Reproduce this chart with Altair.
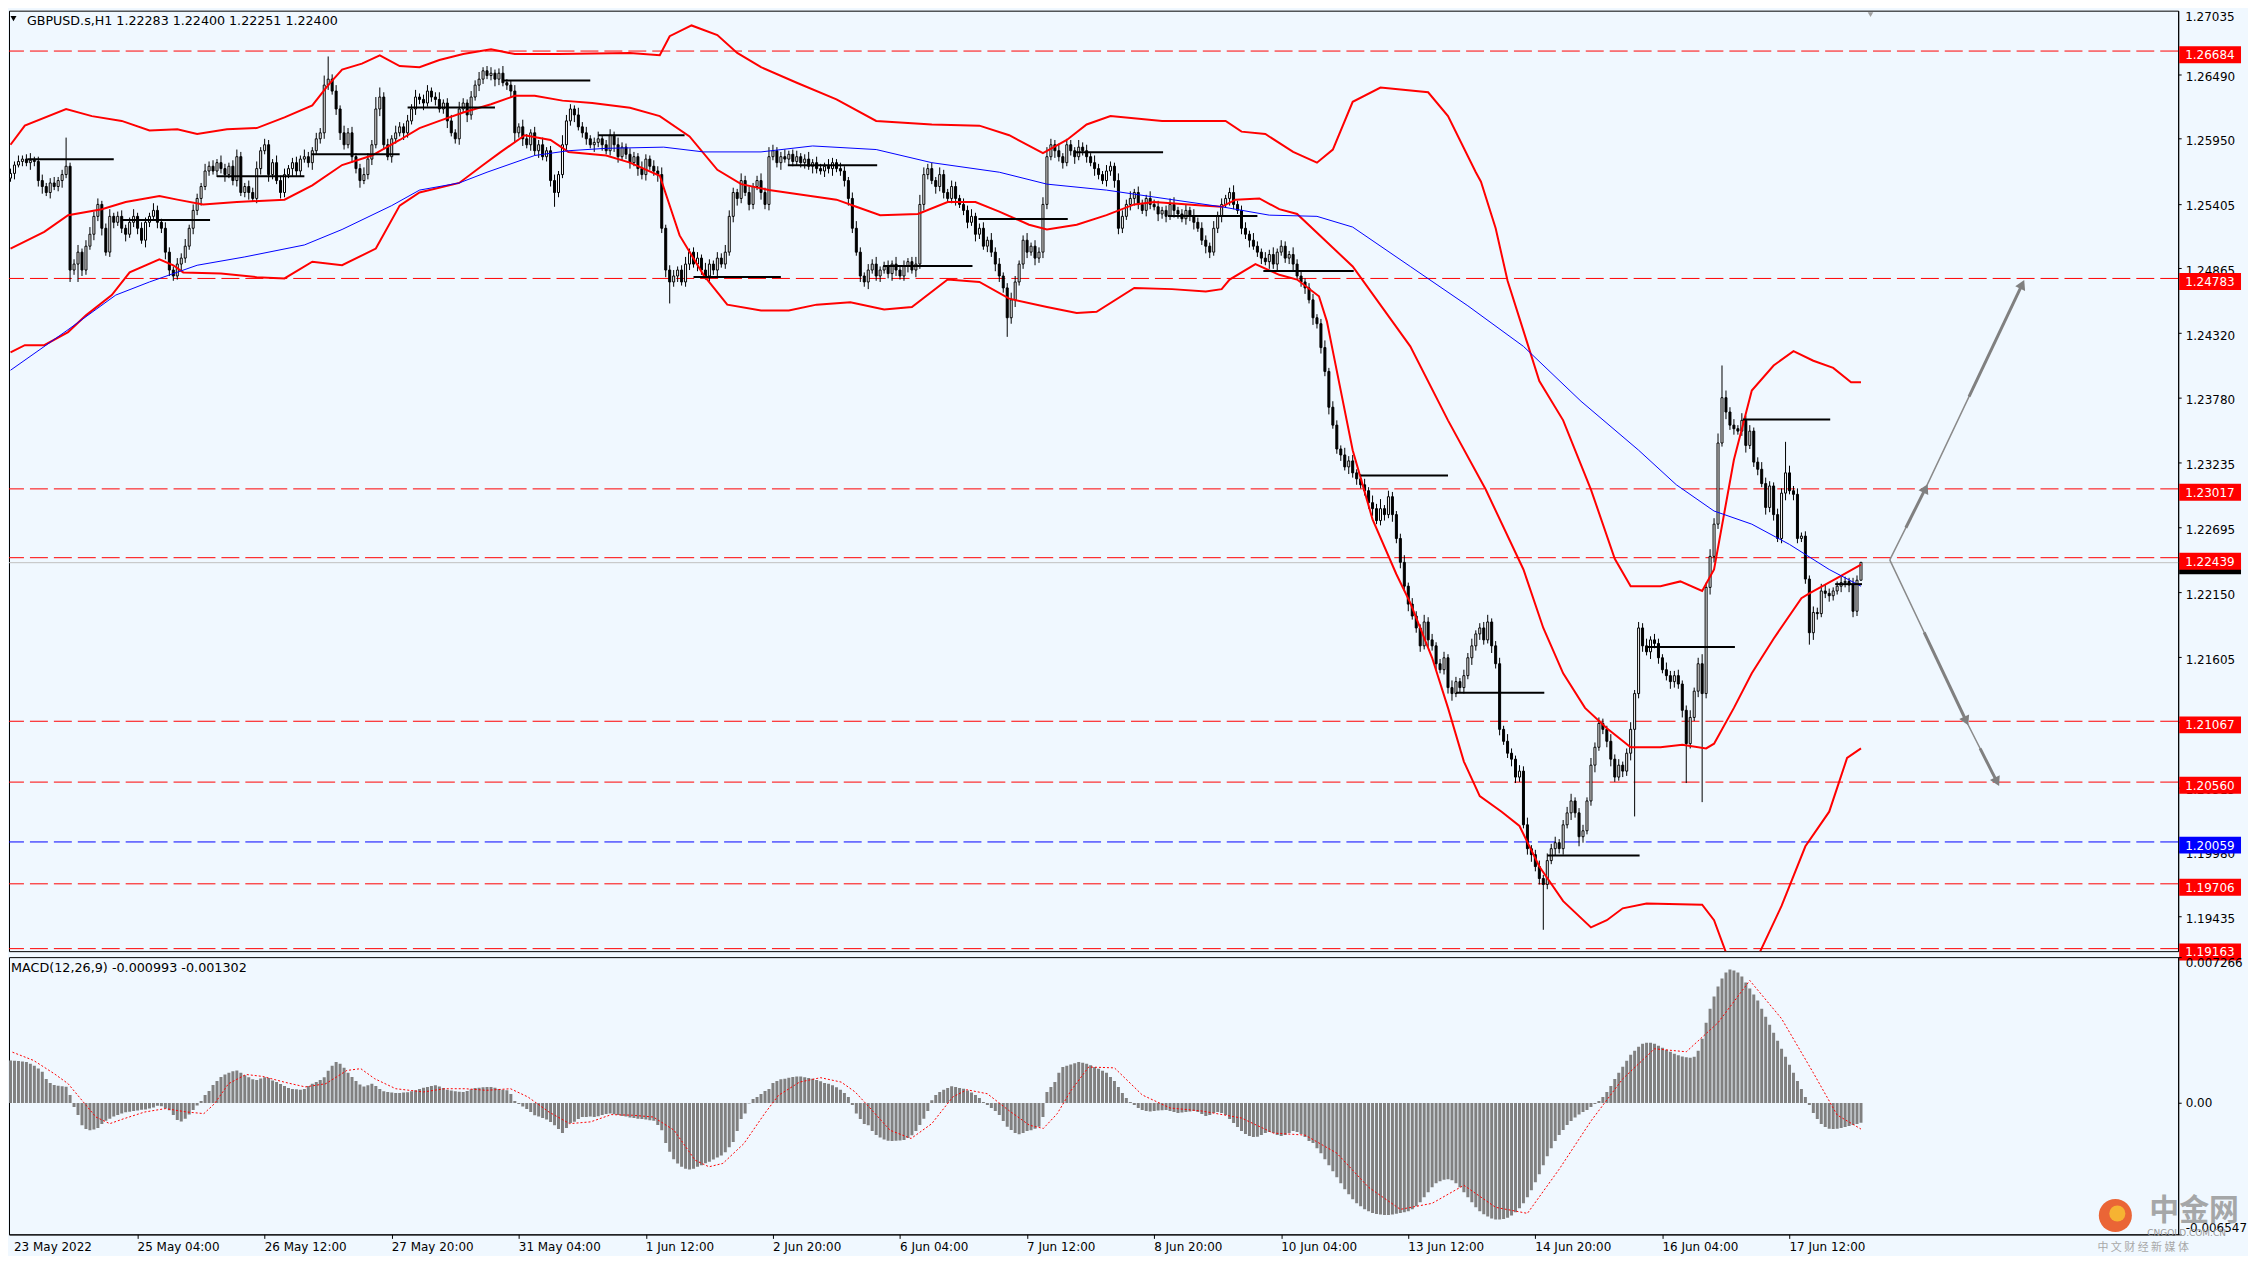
import math
import altair as alt
import pandas as pd

# ------------------------------------------------------------------ data
BASE = 1.19            # candle values are pips above this price
FIRST_OPEN = 662
CLOSE = [
    666, 673, 676, 678, 675, 677, 676, 660, 655, 650,
    658, 655, 660, 665, 672, 585, 590, 600, 585, 605,
    615, 630, 640, 620, 600, 630, 625, 630, 620, 615,
    625, 630, 620, 610, 625, 630, 635, 625, 620, 600,
    585, 580, 590, 595, 605, 620, 635, 645, 655, 668,
    672, 668, 675, 670, 665, 672, 660, 680, 650, 655,
    650, 645, 670, 685, 690, 665, 675, 660, 650, 665,
    670, 675, 668, 678, 680, 675, 685, 695, 700, 740,
    745, 735, 720, 700, 690, 700, 680, 670, 660, 665,
    678, 690, 720, 730, 690, 680, 695, 700, 705, 700,
    710, 720, 730, 728, 725, 735, 730, 728, 720, 725,
    710, 700, 695, 720, 725, 715, 730, 740, 745, 752,
    748, 750, 745, 750, 742, 740, 735, 700, 705, 695,
    690, 700, 685, 690, 680, 685, 660, 650, 665, 690,
    710, 720, 715, 705, 700, 695, 690, 692, 695, 690,
    685, 698, 690, 680, 688, 682, 675, 680, 670, 665,
    678, 672, 668, 665, 620, 585, 575, 580, 585, 575,
    590, 600, 590, 595, 585, 580, 590, 585, 595, 590,
    600, 630, 650, 645, 660, 650, 640, 655, 660, 650,
    640, 680, 685, 675, 680, 678, 682, 676, 680, 675,
    678, 672, 675, 670, 668, 672, 670, 675, 670, 668,
    660, 645, 620, 600, 580, 575, 585, 590, 580, 585,
    588, 582, 590, 585, 580, 588, 592, 585, 590, 640,
    665, 670, 660, 655, 665, 650, 645, 655, 645, 640,
    635, 625, 630, 615, 620, 605, 610, 600, 590, 580,
    570, 545, 560, 575, 590, 610, 600, 605, 595, 600,
    640, 680, 690, 685, 680, 675, 690, 685, 680, 688,
    685, 680, 675, 670, 665, 660, 668, 672, 660, 620,
    630, 640, 645, 650, 640, 635, 645, 640, 638, 632,
    635, 630, 640, 635, 632, 628, 635, 630, 625, 620,
    610, 605, 600, 620, 630, 640, 645, 650, 640, 635,
    620, 615, 610, 605, 600, 595, 592, 598, 590, 600,
    605, 595, 598, 590, 580, 575, 570, 560, 545, 540,
    520, 500, 470, 455, 435, 430, 420, 425, 415, 410,
    405, 400, 390, 385, 375, 385, 380, 395, 380, 360,
    340, 320, 305, 295, 285, 270, 290, 275, 270, 255,
    250, 260, 235, 230, 240, 235, 245, 260, 270, 280,
    285, 275, 290, 270, 255, 200, 190, 180, 175, 160,
    165, 120, 100, 95, 85, 75, 70, 90, 100, 105,
    100, 120, 130, 140, 130, 110, 115, 140, 170, 185,
    205, 200, 190, 175, 160, 170, 165, 180, 200, 230,
    285, 270, 265, 275, 272, 260, 250, 245, 240,
    245, 238, 216, 188, 210, 232, 255, 230, 319, 345,
    372, 440, 478, 466, 455, 452, 450, 459, 438, 450,
    424, 418, 406, 386, 404, 380, 360, 398, 415, 400,
    397, 360, 362, 326, 281, 298, 297, 316, 314, 312,
    316, 320, 323, 324, 321, 299, 325, 340,
]
UPPER_WICK = [
    4, 3, 5, 3, 4, 6, 3, 4, 5, 3,
    4, 5, 3, 4, 24, 3, 4, 6, 3, 5,
    6, 4, 5, 3, 4, 6, 3, 4, 5, 3,
    4, 6, 3, 5, 4, 3, 6, 4, 3, 5,
    4, 3, 5, 4, 6, 3, 5, 4, 3, 6,
    4, 5, 3, 6, 4, 3, 5, 6, 4, 3,
    5, 4, 6, 3, 5, 4, 3, 6, 4, 5,
    3, 4, 5, 3, 6, 4, 3, 5, 4, 8,
    19, 4, 5, 3, 6, 4, 5, 3, 4, 6,
    5, 4, 10, 8, 4, 5, 3, 6, 4, 3,
    5, 4, 6, 3, 4, 5, 3, 4, 6, 3,
    4, 5, 3, 6, 4, 3, 5, 4, 6, 3,
    4, 5, 3, 4, 6, 3, 4, 5, 3, 6,
    4, 3, 5, 4, 6, 3, 4, 5, 3, 8,
    5, 4, 3, 6, 4, 5, 3, 4, 6, 3,
    4, 5, 3, 6, 4, 3, 5, 4, 3, 6,
    4, 3, 5, 4, 6, 3, 4, 5, 3, 4,
    6, 3, 4, 5, 3, 6, 4, 3, 5, 4,
    6, 5, 4, 3, 6, 4, 5, 3, 4, 6,
    4, 8, 5, 3, 4, 6, 3, 4, 5, 3,
    4, 6, 3, 5, 4, 3, 6, 4, 3, 5,
    4, 3, 5, 6, 4, 3, 5, 4, 6, 3,
    4, 5, 3, 6, 4, 5, 3, 4, 6, 8,
    6, 4, 5, 3, 6, 4, 3, 5, 4, 3,
    5, 4, 6, 3, 4, 5, 3, 6, 4, 5,
    3, 4, 6, 5, 3, 4, 6, 3, 5, 4,
    6, 8, 5, 4, 6, 3, 5, 4, 3, 6,
    4, 5, 3, 6, 4, 3, 5, 4, 3, 6,
    5, 4, 6, 3, 5, 4, 3, 6, 4, 5,
    3, 4, 5, 6, 3, 4, 5, 3, 6, 4,
    5, 4, 3, 6, 4, 5, 3, 4, 6, 3,
    4, 5, 3, 6, 4, 3, 5, 4, 6, 3,
    5, 4, 3, 6, 4, 5, 3, 4, 5, 3,
    4, 6, 3, 5, 4, 3, 6, 4, 5, 3,
    4, 5, 3, 6, 4, 8, 3, 5, 4, 3,
    4, 6, 3, 5, 4, 3, 6, 4, 5, 3,
    4, 5, 3, 6, 4, 3, 5, 4, 6, 3,
    4, 5, 6, 3, 4, 5, 3, 6, 4, 3,
    5, 4, 6, 3, 4, 5, 3, 6, 4, 5,
    3, 4, 5, 6, 3, 4, 5, 3, 6, 4,
    5, 4, 3, 6, 4, 5, 3, 4, 6, 3,
    5, 4, 6, 3, 5, 4, 3, 6, 4,
    4, 5, 3, 4, 6, 3, 5, 8, 4, 6,
    5, 8, 27, 6, 4, 5, 3, 6, 4, 5,
    3, 4, 6, 5, 4, 3, 5, 4, 26, 6,
    4, 5, 3, 4, 3, 5, 4, 6, 5, 4,
    3, 4, 5, 4, 3, 6, 4, 0,
]
LOWER_WICK = [
    3, 5, 2, 4, 3, 6, 4, 5, 6, 3,
    5, 3, 4, 6, 3, 10, 4, 15, 5, 4,
    3, 5, 4, 6, 3, 4, 5, 3, 4, 6,
    3, 4, 5, 3, 6, 4, 3, 5, 4, 6,
    5, 4, 3, 6, 4, 3, 5, 4, 6, 3,
    4, 3, 5, 4, 6, 3, 4, 5, 3, 4,
    6, 3, 4, 5, 3, 6, 4, 3, 5, 4,
    3, 6, 4, 5, 3, 4, 6, 3, 4, 5,
    4, 3, 5, 6, 4, 3, 5, 4, 6, 3,
    4, 5, 3, 6, 4, 3, 5, 4, 3, 6,
    4, 3, 5, 4, 6, 3, 4, 5, 3, 4,
    6, 3, 4, 5, 3, 6, 4, 3, 5, 4,
    3, 4, 6, 5, 3, 4, 5, 8, 4, 6,
    3, 5, 4, 6, 3, 4, 5, 12, 4, 3,
    5, 4, 6, 3, 4, 5, 3, 6, 4, 5,
    3, 4, 6, 5, 3, 4, 5, 3, 6, 4,
    5, 3, 4, 6, 4, 6, 18, 4, 5, 3,
    4, 5, 3, 6, 4, 3, 5, 4, 6, 3,
    4, 3, 5, 6, 4, 3, 5, 4, 3, 6,
    4, 5, 3, 4, 6, 3, 5, 4, 3, 4,
    5, 3, 6, 4, 3, 5, 4, 6, 3, 4,
    5, 6, 4, 3, 5, 4, 6, 3, 4, 5,
    3, 4, 6, 5, 3, 4, 5, 3, 6, 4,
    5, 4, 3, 6, 4, 5, 3, 4, 6, 3,
    4, 5, 3, 6, 4, 3, 5, 4, 6, 5,
    4, 16, 5, 6, 3, 4, 5, 3, 6, 4,
    5, 4, 3, 6, 4, 5, 3, 4, 6, 3,
    4, 5, 3, 6, 4, 3, 5, 4, 6, 5,
    4, 3, 5, 6, 4, 3, 5, 4, 3, 6,
    4, 5, 3, 6, 4, 3, 5, 4, 6, 3,
    4, 6, 5, 3, 4, 5, 3, 6, 4, 3,
    5, 4, 6, 3, 4, 5, 3, 6, 4, 5,
    3, 4, 5, 6, 3, 4, 5, 3, 6, 4,
    5, 4, 6, 3, 4, 5, 3, 6, 4, 5,
    3, 4, 5, 6, 3, 4, 5, 3, 6, 4,
    5, 4, 6, 3, 4, 5, 3, 6, 4, 5,
    3, 4, 5, 6, 3, 4, 5, 3, 6, 4,
    5, 4, 3, 6, 4, 5, 3, 4, 6, 5,
    4, 3, 5, 6, 4, 5, 38, 4, 3, 6,
    4, 5, 3, 6, 4, 8, 5, 3, 4, 6,
    3, 4, 5, 6, 4, 3, 5, 4, 6, 73,
    4, 5, 3, 6, 4, 5, 3, 4, 6,
    5, 4, 6, 33, 4, 3, 5, 91, 4, 6,
    5, 4, 3, 6, 4, 5, 3, 4, 6, 3,
    4, 5, 3, 6, 4, 5, 3, 4, 6, 3,
    5, 4, 3, 4, 10, 6, 5, 3, 4, 5,
    4, 3, 5, 4, 6, 5, 4, 0,
]

# MACD(12,26,9) histogram, in units of 0.00001
MACD_HIST = [
    212, 210, 209, 207, 204, 196, 186, 172, 155, 120,
    100, 90, 86, 83, 81, 40, -20, -60, -111, -130,
    -136, -132, -125, -105, -88, -78, -68, -60, -52, -46,
    -44, -40, -37, -34, -32, -28, -22, -14, -16, -28,
    -36, -60, -85, -92, -78, -58, -35, -12, 10, 40,
    60, 90, 110, 130, 142, 150, 158, 162, 150, 138,
    128, 118, 115, 122, 128, 125, 112, 104, 95, 85,
    74, 70, 68, 66, 70, 85, 96, 105, 115, 128,
    160, 185, 204, 195, 175, 150, 130, 110, 92, 82,
    88, 96, 85, 70, 58, 55, 52, 50, 50, 52,
    54, 58, 64, 70, 76, 80, 84, 88, 82, 74,
    66, 62, 58, 56, 55, 60, 68, 74, 76, 78,
    80, 80, 76, 70, 66, 63, 45, 10, -5, -17,
    -30, -45, -61, -68, -75, -82, -95, -111, -130, -149,
    -125, -100, -94, -80, -70, -70, -68, -70, -66, -60,
    -55, -53, -56, -60, -65, -68, -72, -75, -78, -80,
    -82, -86, -88, -110, -136, -200, -243, -280, -301, -318,
    -328, -331, -328, -318, -310, -300, -293, -282, -272, -262,
    -245, -220, -194, -140, -80, -53, -3, 20, 30, 45,
    60, 70, 100, 110, 118, 121, 126, 130, 132, 132,
    128, 124, 121, 115, 108, 100, 96, 88, 78, 66,
    50, 30, -10, -53, -80, -105, -111, -140, -160, -172,
    -182, -188, -189, -188, -187, -185, -175, -161, -140, -110,
    -78, -40, 13, 40, 55, 66, 75, 83, 80, 75,
    71, 62, 52, 40, 25, 5, -10, -25, -40, -60,
    -90, -119, -135, -150, -156, -150, -140, -136, -128, -119,
    -70, 55, 80, 104, 150, 179, 185, 192, 198, 204,
    200, 195, 188, 179, 170, 160, 150, 130, 110, 80,
    50, 25, 5, -10, -25, -35, -40, -42, -40, -38,
    -36, -35, -40, -45, -50, -48, -45, -42, -40, -45,
    -55, -65, -60, -50, -45, -50, -60, -80, -100, -120,
    -140, -155, -165, -170, -168, -160, -150, -145, -150, -160,
    -165, -160, -150, -140, -145, -155, -170, -190,
    -200, -225, -250, -280, -310, -340, -370, -400, -430, -455,
    -480, -500, -515, -530, -540, -548, -553, -556, -558, -558,
    -556, -552, -548, -545, -540, -530, -515, -495, -470, -445,
    -420, -400, -390, -382, -380, -385, -400, -420, -445, -470,
    -495, -520, -540, -555, -565, -575, -580, -580, -578, -572,
    -560, -545, -525, -500, -470, -435, -395, -355, -310, -265,
    -225, -190, -160, -135, -110, -90, -72, -58, -45, -35,
    -20, -5, 10, 30, 55, 85,
    120, 150, 180, 210, 240, 260, 280, 295, 300, 300, 295, 285, 275,
    265, 255, 245, 238, 232, 228, 225, 230, 260,
    320, 400, 470, 530, 580, 620, 650, 665, 660, 650, 630,
    600, 570, 540, 510, 470, 430, 390, 350, 310, 270, 230, 190, 150, 110, 70, 30,
    -10, -50, -80, -105, -120, -128, -130, -128, -125, -120, -115, -110, -105, -99,
]
SIGNAL_BAR = [0.5, 5.8, 11, 14.5, 18, 21.5, 25, 28.6, 33.8, 39,
              44.4, 48.7, 51.4, 54.9, 59.3, 63.6, 68.9, 74.2, 79.4, 84.7,
              88.2, 91.7, 97, 104, 109.3, 114.5, 119.8, 125.9, 130.3, 135.6,
              140.8, 146.1, 151.3, 156.6, 161.9, 167.1, 172.4, 175.9, 179.4, 184.7,
              189.9, 193.4, 198.7, 204, 209.2, 212.7, 216.2, 221.5, 226.8, 232,
              237.3, 240.8, 246, 251.3, 256.6, 260.1, 263.6, 267.1, 271.5, 278,
              285, 292, 300, 310, 318, 326, 334, 342, 350, 358,
              366, 374, 382, 390, 398, 406, 414, 422, 430, 438,
              446, 454, 460, 466]
SIGNAL_VAL = [253, 212, 146, 96, 13, -70, -103, -78, -45, -28,
              -45, -53, -3, 96, 142, 132, 104, 80, 96, 162,
              171, 121, 71, 55, 71, 71, 63, 71, 30, -45,
              -103, -94, -58, -61, -70, -136, -285, -318, -301, -202,
              -53, 38, 104, 126, 104, 55, -20, -136, -177, -103,
              30, 66, 46, -36, -111, -127, -53, 63, 179, 175,
              40, -25, -40, -75, -150, -160, -250, -420, -530, -500,
              -410, -520, -550, -330, -90, 120, 270, 255, 400, 610,
              420, 150, -60, -130]

# Bollinger bands (bar index, price)
UPPER_BAR = [0, 3.6, 14, 20.5, 28, 35, 42, 47, 54.5, 62, 69, 76, 80, 83.5, 88.5, 93, 98, 103,
             108, 114, 121, 127, 138, 156, 163.5, 166, 171.5, 178, 183, 189, 198, 208, 218,
             232, 244, 251.5, 260, 266, 271, 277, 290, 306, 310, 316, 323, 329, 333, 338, 345,
             357, 362, 369, 370.3, 374, 377, 385, 391, 398, 404, 408, 415.5, 420.5, 426, 429,
             434, 438.5, 444, 449, 454, 459, 463.5, 466]
UPPER_PRICE = [1.2590, 1.2606, 1.2620, 1.2614, 1.2610, 1.2602, 1.2603, 1.2599, 1.2603, 1.2604,
               1.2613, 1.2623, 1.2640, 1.2653, 1.2658, 1.2665, 1.2656, 1.2655, 1.2661, 1.2666,
               1.2670, 1.2666, 1.2666, 1.2667, 1.2665, 1.2681, 1.2690, 1.2682, 1.2667, 1.2655,
               1.2642, 1.2628, 1.2610, 1.2607, 1.2606, 1.2598, 1.2583, 1.2594, 1.2607, 1.2614,
               1.2610, 1.2610, 1.2601, 1.2599, 1.2584, 1.2575, 1.2586, 1.2626, 1.2638, 1.2634,
               1.2614, 1.2567, 1.2559, 1.2520, 1.2476, 1.2392, 1.2359, 1.2301, 1.2243, 1.2220,
               1.2220, 1.2224, 1.2216, 1.2234, 1.2326, 1.2384, 1.2405, 1.2417, 1.2409, 1.2403,
               1.2391, 1.2391]
MID_BAR = [0, 8.5, 14.5, 23, 29, 37.5, 42, 48.5, 57, 69, 76, 83.5, 91, 98, 103, 108, 114, 121,
           127, 132, 139, 146.5, 156, 163.5, 171, 178, 184, 191, 208, 213, 219, 228.5, 236, 243,
           249, 256.5, 261, 268.5, 276, 283, 288, 300, 305, 308.5, 314.5, 319.5, 324, 338, 352.5,
           362, 371.5, 381, 386, 391, 396.5, 402, 408, 415.5, 421, 427, 429, 434, 438.5, 444,
           451, 453, 459.5, 466]
MID_PRICE = [1.2503, 1.2517, 1.2531, 1.2536, 1.2542, 1.2547, 1.2544, 1.2540, 1.2542, 1.2544,
             1.2556, 1.2573, 1.2581, 1.2594, 1.2604, 1.2610, 1.2617, 1.2624, 1.2631, 1.2631,
             1.2627, 1.2625, 1.2621, 1.2614, 1.2597, 1.2569, 1.2557, 1.2552, 1.2544, 1.2538,
             1.2531, 1.2532, 1.2542, 1.2542, 1.2534, 1.2523, 1.2519, 1.2523, 1.2531, 1.2540,
             1.2542, 1.2539, 1.2538, 1.2544, 1.2545, 1.2536, 1.2532, 1.2488, 1.2421, 1.2359,
             1.2301, 1.2234, 1.2185, 1.2147, 1.2118, 1.2101, 1.2085, 1.2085, 1.2087, 1.2084,
             1.2088, 1.2118, 1.2147, 1.2176, 1.2210, 1.2214, 1.2226, 1.2238]
LOWER_BAR = [0, 3.6, 8.5, 14.5, 19, 25.5, 30, 37.5, 41, 43.5, 53, 62, 69, 76, 83.5, 92, 98, 103,
             113, 119, 123.5, 129.5, 136, 140.5, 150, 156, 163.5, 168.5, 174.5, 180.5, 189, 196,
             203, 211.5, 220, 227, 236, 244, 251.5, 261, 268.5, 273.5, 283, 292.5, 301, 305, 307,
             313.5, 319.5, 324, 329.5, 331.5, 333, 338, 343, 349, 352.5, 358, 362, 366, 370,
             375.5, 380, 385, 391, 398, 402, 406, 412, 426, 429, 432, 436, 440.5, 446, 452, 458,
             462.5, 466]
LOWER_PRICE = [1.2416, 1.2422, 1.2422, 1.2433, 1.2447, 1.2464, 1.2483, 1.2494, 1.2489, 1.2483,
               1.2482, 1.2479, 1.2478, 1.2492, 1.2489, 1.2503, 1.2539, 1.2550, 1.2558, 1.2573,
               1.2584, 1.2598, 1.2594, 1.2584, 1.2581, 1.2575, 1.2564, 1.2514, 1.2481, 1.2456,
               1.2451, 1.2451, 1.2456, 1.2458, 1.2452, 1.2454, 1.2477, 1.2475, 1.2461, 1.2454,
               1.2449, 1.2450, 1.2470, 1.2469, 1.2467, 1.2469, 1.2477, 1.2490, 1.2481, 1.2477,
               1.2463, 1.2442, 1.2417, 1.2334, 1.2276, 1.2230, 1.2206, 1.2160, 1.2118, 1.2073,
               1.2044, 1.2031, 1.2019, 1.1985, 1.1956, 1.1934, 1.1940, 1.1950, 1.1954, 1.1953,
               1.1940, 1.1913, 1.1885, 1.1913, 1.1952, 1.2002, 1.2031, 1.2076, 1.2084]
MA_BAR = [0, 14.5, 26.5, 35, 47, 59, 74, 83.5, 96, 103, 113, 120, 132, 140.5, 150, 164.5, 174.5,
          189, 202, 218, 232, 249, 261, 276, 292.5, 305, 317, 329, 338, 352.5, 367, 381, 395.5,
          410, 419.5, 429, 438.5, 448, 458, 466]
MA_PRICE = [1.2401, 1.2435, 1.2464, 1.2475, 1.2489, 1.2496, 1.2506, 1.2519, 1.2539, 1.2552,
            1.2558, 1.2567, 1.2581, 1.2585, 1.2587, 1.2588, 1.2584, 1.2584, 1.2589, 1.2586,
            1.2575, 1.2567, 1.2557, 1.2552, 1.2544, 1.2538, 1.2531, 1.2530, 1.2521, 1.2488,
            1.2455, 1.2421, 1.2375, 1.2334, 1.2305, 1.2283, 1.2272, 1.2255, 1.2234, 1.2220]

# previous-day close segments
DAY_START = [4.25, 27.75, 52, 75.75, 100, 124.25, 148, 172, 195.75, 219.75,
             243.75, 268, 291.5, 315.5, 340, 364, 387, 411.75, 436.25, 459.5]
DAY_END = [26, 50.25, 74, 98, 122, 146, 169.75, 194, 218.25, 242.25,
           266.25, 290.25, 314, 338.25, 362, 386.25, 410.25, 434.25, 458.25, 466.25]
DAY_CLOSE = [1.2578, 1.2527, 1.2564, 1.2582, 1.2621, 1.2644, 1.2598, 1.2479, 1.2573, 1.2488,
             1.2528, 1.2584, 1.2530, 1.2484, 1.2313, 1.2131, 1.1994, 1.2169, 1.2360, 1.2222]

LEVELS = [1.26684, 1.24783, 1.23017, 1.22439, 1.21067, 1.20560, 1.20059, 1.19706, 1.19163]
LEVEL_COLORS = ["#FF0000", "#FF0000", "#FF0000", "#FF0000", "#FF0000", "#FF0000",
                "#0000FF", "#FF0000", "#FF0000"]
BID = 1.22400

PRICE_TICKS = [1.27035, 1.26490, 1.25950, 1.25405, 1.24865, 1.24320, 1.23780, 1.23235,
               1.22695, 1.22150, 1.21605, 1.21060, 1.20515, 1.19980, 1.19435]
MACD_TICKS = [0.007266, 0.0, -0.006547]
MACD_TICK_TEXT = ["0.007266", "0.00", "-0.006547"]

TIME_BARS = [0, 32, 64, 96, 128, 160, 192, 224, 256, 288, 320, 352, 384, 416, 448]
TIME_LABELS = ["23 May 2022", "25 May 04:00", "26 May 12:00", "27 May 20:00", "31 May 04:00",
               "1 Jun 12:00", "2 Jun 20:00", "6 Jun 04:00", "7 Jun 12:00", "8 Jun 20:00",
               "10 Jun 04:00", "13 Jun 12:00", "14 Jun 20:00", "16 Jun 04:00", "17 Jun 12:00"]

ARROW_UP_BAR = [473.25, 482.25, 506.6]
ARROW_UP_PRICE = [1.2242, 1.2302, 1.2473]
ARROW_DN_BAR = [473.25, 492.5, 500.25]
ARROW_DN_PRICE = [1.2242, 1.2107, 1.2056]

HEADER = "GBPUSD.s,H1  1.22283 1.22400 1.22251 1.22400"
MACD_TITLE = "MACD(12,26,9) -0.000993 -0.001302"
WATERMARK = ["中金网", "CNGOLD.COM.CN", "中 文 财 经 新 媒 体"]

# ------------------------------------------------------------------ layout
BG = "#F0F8FF"
FONT = "DejaVu Sans"
W = 2175
H_MAIN = 943
H_MACD = 278
X_DOM = [0.875, 544.625]
Y_DOM = [1.19141, 1.27024]
M_DOM = [-0.006547, 0.007266]
PX_BAR = W / (X_DOM[1] - X_DOM[0])
PX_PRICE = H_MAIN / (Y_DOM[1] - Y_DOM[0])

n = len(CLOSE)
assert len(UPPER_WICK) == n and len(LOWER_WICK) == n and len(MACD_HIST) == n, (
    n, len(UPPER_WICK), len(LOWER_WICK), len(MACD_HIST))

opens = [FIRST_OPEN] + CLOSE[:-1]
cdf = pd.DataFrame({
    "bar": list(range(n)),
    "o": [BASE + v / 1e4 for v in opens],
    "c": [BASE + v / 1e4 for v in CLOSE],
    "h": [BASE + (max(o, c) + u) / 1e4 for o, c, u in zip(opens, CLOSE, UPPER_WICK)],
    "l": [BASE + (min(o, c) - d) / 1e4 for o, c, d in zip(opens, CLOSE, LOWER_WICK)],
})

MAIN_AXIS = alt.Axis(orient="right", values=PRICE_TICKS[1:], format=".5f", grid=False,
                     tickSize=3, labelPadding=4, labelOffset=2, title=None,
                     domainColor="black", tickColor="black", labelColor="black",
                     labelFont=FONT, labelFontSize=12)

# expressions that put thin lines on pixel centres (crisp rendering)
SNAP1 = "%.6f - (floor((%.6f - datum.{f}) * %.6f) + 0.5) / %.6f" % (
    Y_DOM[1], Y_DOM[1], PX_PRICE, PX_PRICE)
SNAP2 = "%.6f - round((%.6f - datum.{f}) * %.6f) / %.6f" % (
    Y_DOM[1], Y_DOM[1], PX_PRICE, PX_PRICE)


def XQ(field):
    return alt.X(field, type="quantitative",
                 scale=alt.Scale(domain=X_DOM, nice=False, zero=False), axis=None)


def YM(field):
    return alt.Y(field, type="quantitative",
                 scale=alt.Scale(domain=Y_DOM, nice=False, zero=False),
                 axis=MAIN_AXIS, title=None)


# horizontal levels
ldf = pd.DataFrame({"lvl": LEVELS, "col": LEVEL_COLORS,
                    "txt": [f"{v:.5f}" for v in LEVELS]})
levels = alt.Chart(ldf).transform_calculate(ys=SNAP1.format(f="lvl")).mark_rule(
    strokeWidth=1, strokeDash=[18, 6]).encode(
    y=YM("ys"), color=alt.Color("col:N", scale=None))

bdf = pd.DataFrame({"lvl": [BID], "txt": [f"{BID:.5f}"]})
bid_line = alt.Chart(bdf).transform_calculate(ys=SNAP1.format(f="lvl")).mark_rule(
    strokeWidth=1, color="#C0C0C0").encode(y=YM("ys"))

wicks = alt.Chart(cdf).mark_rule(color="black", strokeWidth=1, clip=True).encode(
    x=XQ("bar"), y=YM("l"), y2="h")
bodies = alt.Chart(cdf).mark_bar(size=2, stroke="black", strokeWidth=1, clip=True).encode(
    x=XQ("bar"), y=YM("o"), y2="c",
    fill=alt.condition("datum.c >= datum.o", alt.value("white"), alt.value("black")))


def band(bars, prices, color, width):
    d = pd.DataFrame({"bar": bars, "p": prices})
    return alt.Chart(d).mark_line(color=color, strokeWidth=width, clip=True).encode(
        x=XQ("bar"), y=YM("p"), order="bar:Q")


upper = band(UPPER_BAR, UPPER_PRICE, "#FF0000", 2)
middle = band(MID_BAR, MID_PRICE, "#FF0000", 2)
lower = band(LOWER_BAR, LOWER_PRICE, "#FF0000", 2)
ma = band(MA_BAR, MA_PRICE, "#0000FF", 1)

ddf = pd.DataFrame({"s": DAY_START, "e": DAY_END, "p": DAY_CLOSE})
days = alt.Chart(ddf).transform_calculate(ys=SNAP2.format(f="p")).mark_rule(
    color="black", strokeWidth=2).encode(x=XQ("s"), x2="e", y=YM("ys"))

# arrows: thin shaft with a heavier second half and a head at each waypoint
shaft, thick, heads = [], [], []
for g, (bs, ps) in enumerate([(ARROW_UP_BAR, ARROW_UP_PRICE), (ARROW_DN_BAR, ARROW_DN_PRICE)]):
    for k in range(len(bs)):
        shaft.append({"g": g, "k": k, "bar": bs[k], "p": ps[k]})
    for k in range(1, len(bs)):
        mb = bs[k - 1] + 0.45 * (bs[k] - bs[k - 1])
        mp = ps[k - 1] + 0.45 * (ps[k] - ps[k - 1])
        thick.append({"g": f"{g}-{k}", "k": 0, "bar": mb, "p": mp})
        thick.append({"g": f"{g}-{k}", "k": 1, "bar": bs[k], "p": ps[k]})
        dxp = (bs[k] - bs[k - 1]) * PX_BAR
        dyp = -(ps[k] - ps[k - 1]) * PX_PRICE
        ang = math.degrees(math.atan2(dxp, -dyp)) % 360
        heads.append({"bar": bs[k], "p": ps[k], "ang": ang})
arrow_shaft = alt.Chart(pd.DataFrame(shaft)).mark_line(color="#8A8A8A", strokeWidth=1.5).encode(
    x=XQ("bar"), y=YM("p"), detail="g:N", order="k:Q")
arrow_thick = alt.Chart(pd.DataFrame(thick)).mark_line(color="#808080", strokeWidth=3).encode(
    x=XQ("bar"), y=YM("p"), detail="g:N", order="k:Q")
arrow_heads = alt.Chart(pd.DataFrame(heads)).mark_point(
    shape="triangle-up", filled=True, size=120, color="#808080", opacity=1).encode(
    x=XQ("bar"), y=YM("p"), angle=alt.Angle("ang:Q", scale=None))

# right-hand price labels
bid_box = alt.Chart(bdf).mark_rect(color="black", yOffset=-5, y2Offset=12).encode(
    x=alt.value(W + 1), x2=alt.value(W + 63), y=YM("lvl"), y2="lvl")
boxes = alt.Chart(ldf).mark_rect(yOffset=-5, y2Offset=12).encode(
    x=alt.value(W + 1), x2=alt.value(W + 63), y=YM("lvl"), y2="lvl",
    color=alt.Color("col:N", scale=None))
box_text = alt.Chart(ldf).mark_text(align="left", baseline="middle", dy=4, color="white",
                                    font=FONT, fontSize=12).encode(
    x=alt.value(W + 7), y=YM("lvl"), text="txt:N")

hdr = pd.DataFrame({"t": [HEADER], "top": [f"{PRICE_TICKS[0]:.5f}"]})
header = alt.Chart(hdr).mark_text(align="left", baseline="middle", font=FONT, fontSize=12.7,
                                  color="black").encode(
    x=alt.value(18), y=alt.value(10), text="t:N")
header_tri = alt.Chart(hdr).mark_point(shape="triangle-down", filled=True, size=36,
                                       color="black", opacity=1).encode(
    x=alt.value(4.5), y=alt.value(8))
top_label = alt.Chart(hdr).mark_text(align="left", baseline="middle", font=FONT,
                                     fontSize=12, color="black").encode(
    x=alt.value(W + 7), y=alt.value(6), text="top:N")
shift_tri = alt.Chart(hdr).mark_point(shape="triangle-down", filled=True, size=30,
                                      color="#A0A0A0", opacity=1).encode(
    x=alt.value((467.5 - X_DOM[0]) * PX_BAR), y=alt.value(4))

main = alt.layer(levels, bid_line, wicks, bodies, upper, middle, lower, ma, days,
                 arrow_shaft, arrow_thick, arrow_heads, bid_box, boxes, box_text, header,
                 header_tri, top_label, shift_tri).properties(width=W, height=H_MAIN)

# ------------------------------------------------------------------ MACD panel
mdf = pd.DataFrame({"bar": list(range(n)), "m": [v / 1e5 for v in MACD_HIST], "z": 0.0})
sdf = pd.DataFrame({"bar": SIGNAL_BAR, "s": [v / 1e5 for v in SIGNAL_VAL]})

label_expr = ("datum.value > 0.001 ? '%s' : (datum.value < -0.001 ? '%s' : '%s')"
              % (MACD_TICK_TEXT[0], MACD_TICK_TEXT[2], MACD_TICK_TEXT[1]))
MACD_AXIS = alt.Axis(orient="right", values=MACD_TICKS, labelExpr=label_expr,
                     labelFlush=True, grid=False, tickSize=3, labelPadding=4, title=None,
                     domainColor="black", tickColor="black", labelColor="black",
                     labelFont=FONT, labelFontSize=12)
TIME_AXIS = alt.Axis(values=TIME_BARS[1:], labels=False, tickSize=4, grid=False,
                     title=None, domainColor="black", tickColor="black")


def XM(field):
    return alt.X(field, type="quantitative",
                 scale=alt.Scale(domain=X_DOM, nice=False, zero=False), axis=TIME_AXIS)


def YMC(field):
    return alt.Y(field, type="quantitative",
                 scale=alt.Scale(domain=M_DOM, nice=False, zero=False),
                 axis=MACD_AXIS, title=None)


hist = alt.Chart(mdf).mark_bar(size=3, color="#808080", clip=True).encode(
    x=XM("bar"), y=YMC("m"), y2="z")
signal = alt.Chart(sdf).mark_line(color="#FF0000", strokeWidth=1, strokeDash=[2, 2],
                                  clip=True).encode(x=XM("bar"), y=YMC("s"), order="bar:Q")
mt = pd.DataFrame({"t": [MACD_TITLE]})
macd_title = alt.Chart(mt).mark_text(align="left", baseline="middle", font=FONT,
                                     fontSize=12.8, color="black").encode(
    x=alt.value(2), y=alt.value(11), text="t:N")
tdf = pd.DataFrame({"bar": TIME_BARS, "lab": TIME_LABELS})
time_labels = alt.Chart(tdf).transform_calculate(
    xb="max(datum.bar, %f)" % X_DOM[0]).mark_text(
    align="left", baseline="top", font=FONT, fontSize=12, color="black").encode(
    x=XM("xb"), y=alt.value(H_MACD + 8), text="lab:N")

wdf = pd.DataFrame({"t": [WATERMARK[0]], "u": [WATERMARK[1]], "v": [WATERMARK[2]]})
logo_outer = alt.Chart(wdf).mark_point(shape="circle", filled=True, size=1100,
                                       color="#E95420", opacity=0.9).encode(
    x=alt.value(2112), y=alt.value(259))
logo_inner = alt.Chart(wdf).mark_point(shape="circle", filled=True, size=260,
                                       color="#F7B733", opacity=0.95).encode(
    x=alt.value(2114), y=alt.value(257))
wm1 = alt.Chart(wdf).mark_text(align="left", baseline="middle", font="Noto Sans CJK SC",
                               fontSize=30, fontWeight="bold", color="#8C8C8C",
                               opacity=0.75).encode(x=alt.value(2146), y=alt.value(255),
                                                    text="t:N")
wm2 = alt.Chart(wdf).mark_text(align="left", baseline="middle", font=FONT, fontSize=9,
                               color="#9A9A9A").encode(x=alt.value(2144), y=alt.value(277),
                                                       text="u:N")
wm3 = alt.Chart(wdf).mark_text(align="left", baseline="middle", font="Noto Sans CJK SC",
                               fontSize=11, color="#A8A8A8").encode(
    x=alt.value(2094), y=alt.value(292), text="v:N")

macd = alt.layer(hist, signal, macd_title, time_labels, logo_outer, logo_inner, wm1, wm2,
                 wm3).properties(width=W, height=H_MACD)

chart = alt.vconcat(main, macd, spacing=6, bounds="flush", padding=0,
                    background=BG).configure_view(stroke="black", strokeWidth=1)

chart.save("out.html", embed_options={"renderer": "svg", "actions": False})
